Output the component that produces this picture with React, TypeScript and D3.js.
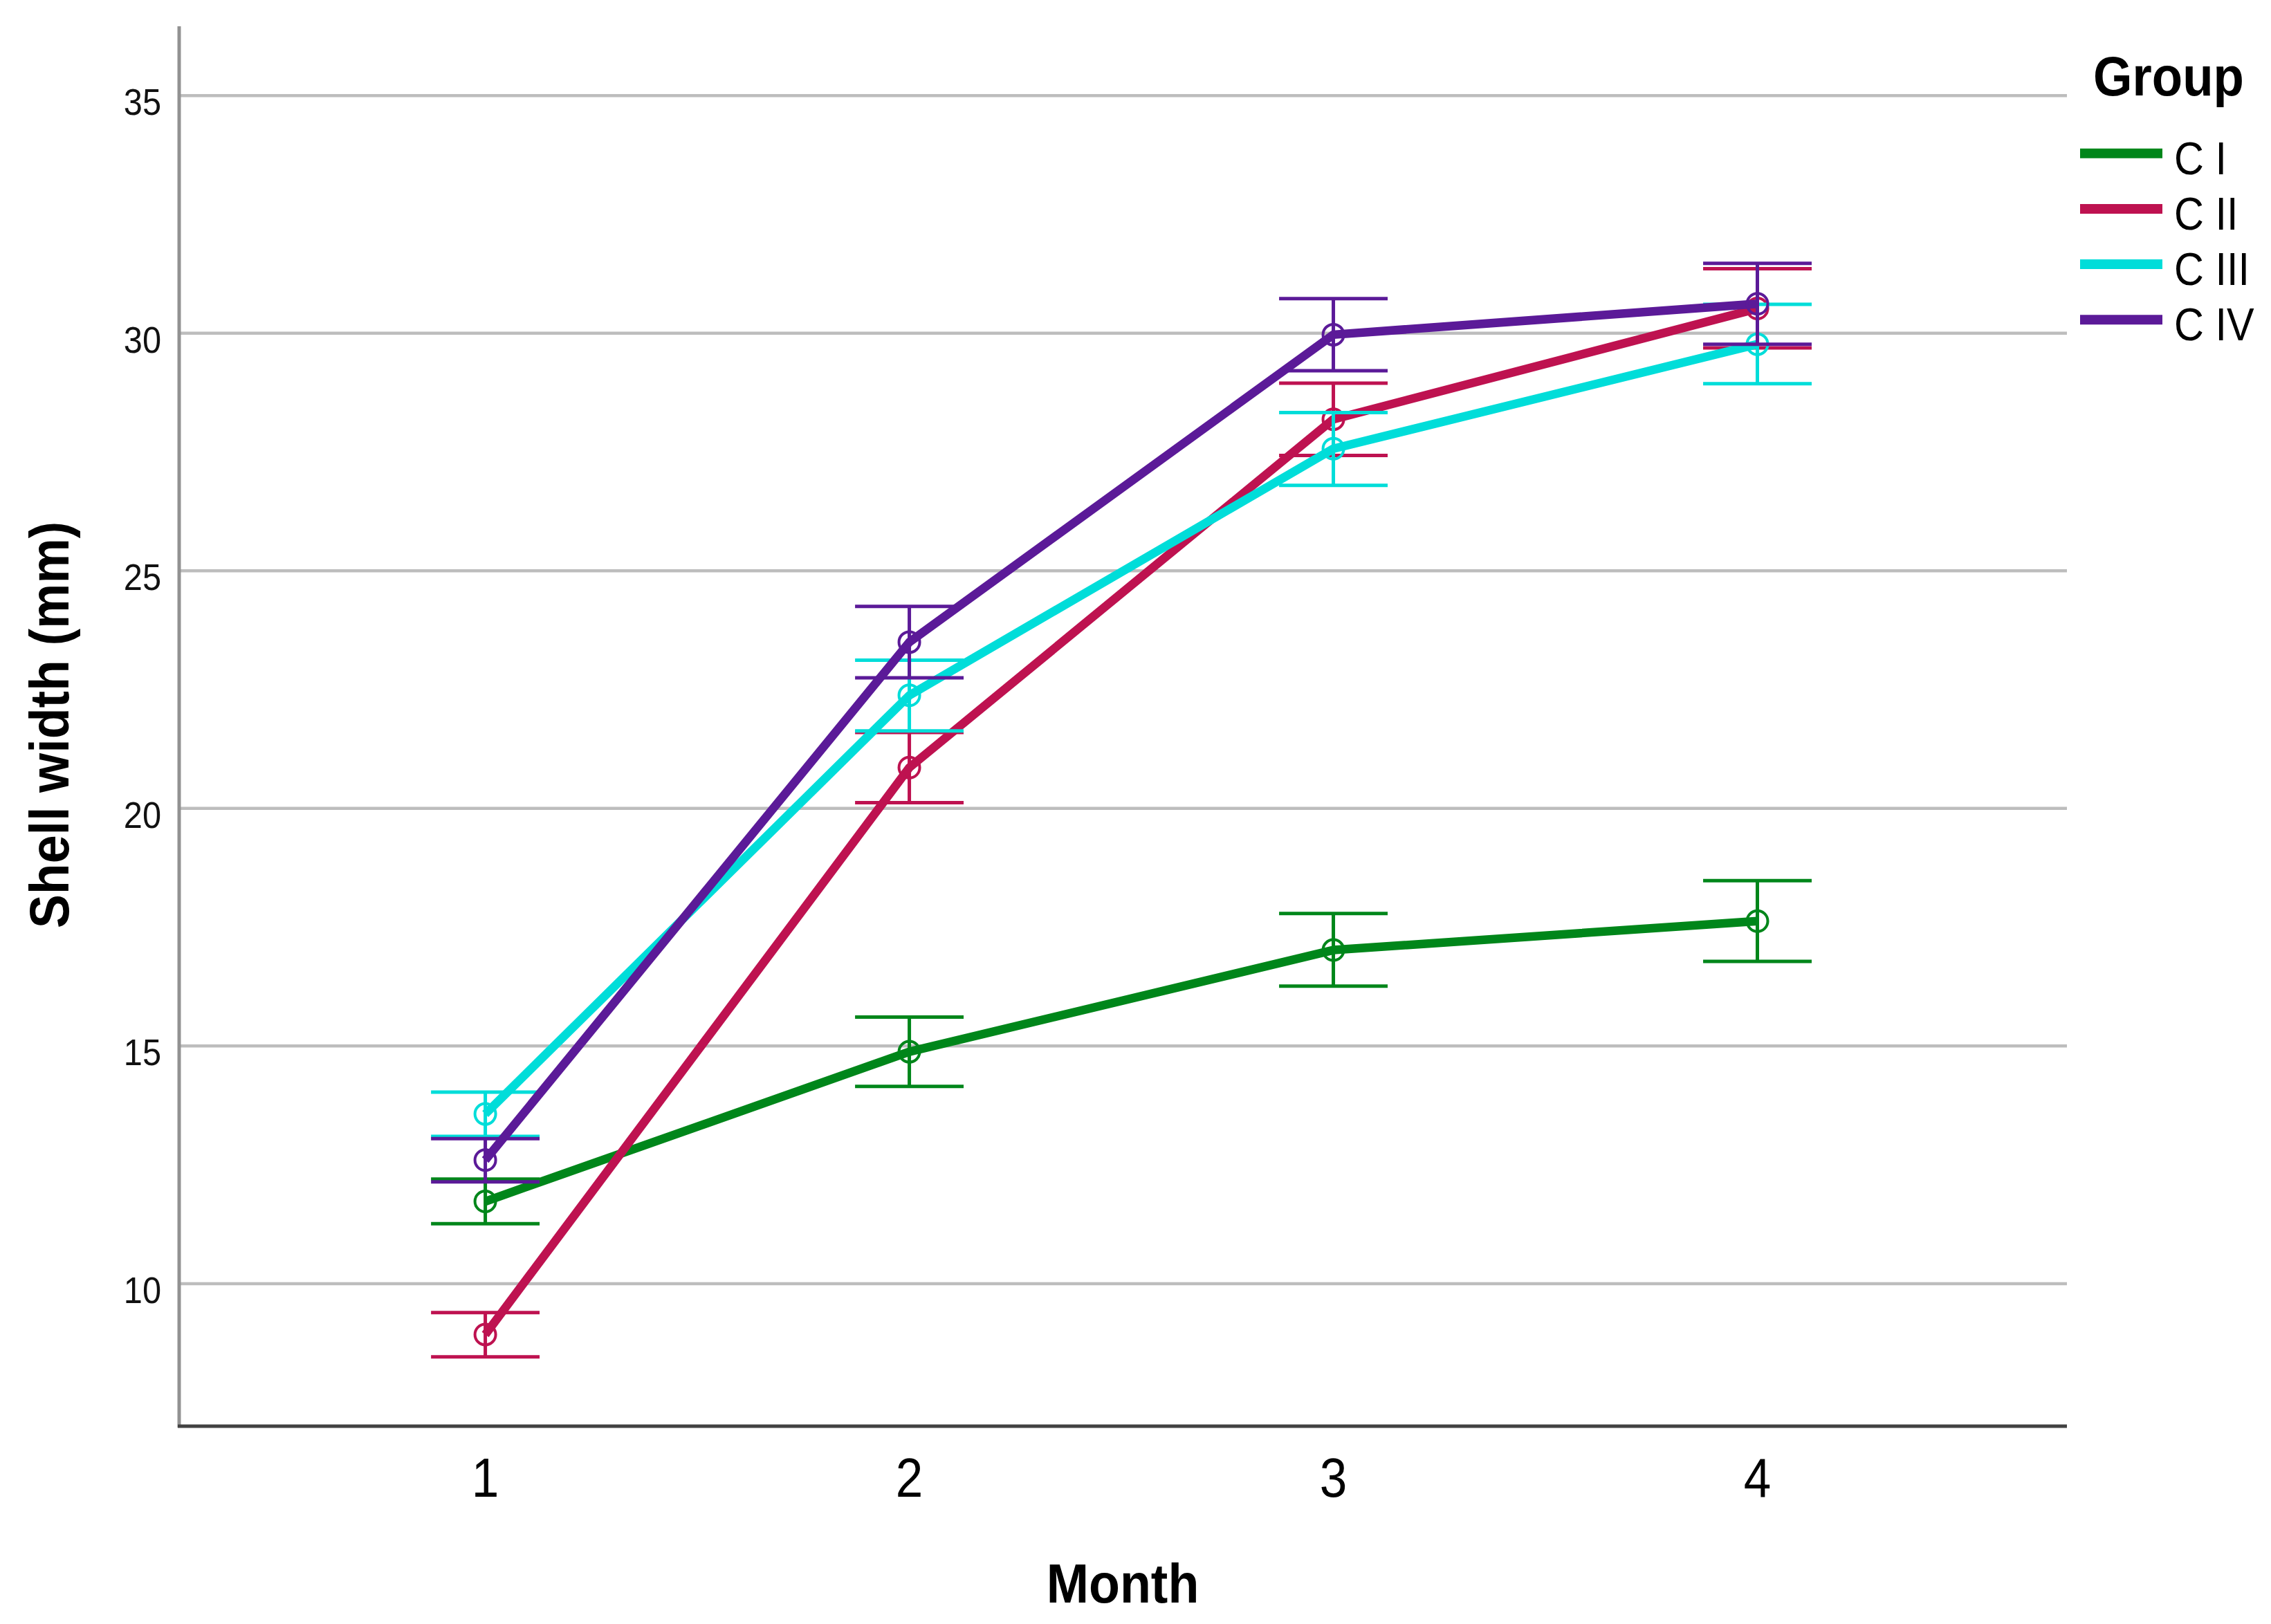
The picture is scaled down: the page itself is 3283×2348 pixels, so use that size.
import React from "react";
import * as d3 from "d3";

const months = [1, 2, 3, 4];
const groups = ["C I", "C II", "C III", "C IV"];
const colors = ["#00861A", "#BE1250", "#00DDD9", "#5B1A98"];

const cIMean = [11.73, 14.88, 17.02, 17.63];
const cILo = [11.26, 14.15, 16.26, 16.78];
const cIHi = [12.2, 15.61, 17.79, 18.48];

const cIIMean = [8.93, 20.86, 28.19, 30.52];
const cIILo = [8.46, 20.12, 27.43, 29.69];
const cIIHi = [9.39, 21.6, 28.95, 31.36];

const cIIIMean = [13.57, 22.38, 27.57, 29.77];
const cIIILo = [13.1, 21.63, 26.8, 28.94];
const cIIIHi = [14.03, 23.12, 28.33, 30.61];

const cIVMean = [12.6, 23.5, 29.97, 30.62];
const cIVLo = [12.14, 22.75, 29.21, 29.77];
const cIVHi = [13.05, 24.25, 30.73, 31.47];

const yTicks = [10, 15, 20, 25, 30, 35];

const W = 3283;
const H = 2348;
const FONT = "'Liberation Sans', Arial, sans-serif";

export default function App() {
  const x = d3.scaleLinear().domain([0.278, 4.73]).range([259, 2988]);
  const y = d3.scaleLinear().domain([7.0, 36.46]).range([2062, 38]);

  const series = [
    { name: groups[0], color: colors[0], mean: cIMean, lo: cILo, hi: cIHi },
    { name: groups[1], color: colors[1], mean: cIIMean, lo: cIILo, hi: cIIHi },
    { name: groups[2], color: colors[2], mean: cIIIMean, lo: cIIILo, hi: cIIIHi },
    { name: groups[3], color: colors[3], mean: cIVMean, lo: cIVLo, hi: cIVHi },
  ];

  const line = d3
    .line<number>()
    .x((_, i) => x(months[i]))
    .y((d) => y(d));

  const capHalf = 0.128;

  return (
    <svg
      width={W}
      height={H}
      viewBox={`0 0 ${W} ${H}`}
      style={{ position: "absolute", left: 0, top: 0, display: "block", background: "#fff" }}
    >
      <rect x={0} y={0} width={W} height={H} fill="#fff" />
      {yTicks.map((t) => (
        <line key={"g" + t} x1={x.range()[0]} x2={x.range()[1]} y1={y(t)} y2={y(t)} stroke="#bdbdbd" strokeWidth={4.5} />
      ))}
      {yTicks.map((t) => (
        <g key={"yl" + t} transform={`translate(233,${y(t) + 28}) scale(0.92,1)`}>
          <text x={0} y={0} textAnchor="end" fontFamily={FONT} fontSize={53} fill="#111">
            {t}
          </text>
        </g>
      ))}
      <line x1={259} x2={259} y1={y.range()[1]} y2={y.range()[0] + 2} stroke="#929292" strokeWidth={5} />
      <line x1={257} x2={x.range()[1]} y1={2062} y2={2062} stroke="#424242" strokeWidth={5} />
      {months.map((m) => (
        <g key={"xl" + m} transform={`translate(${x(m)},2164) scale(0.9,1)`}>
          <text x={0} y={0} textAnchor="middle" fontFamily={FONT} fontSize={79} fill="#000">
            {m}
          </text>
        </g>
      ))}
      <g transform={`translate(1623,2317) scale(0.92,1)`}>
        <text x={0} y={0} textAnchor="middle" fontFamily={FONT} fontWeight="bold" fontSize={80} fill="#000">
          Month
        </text>
      </g>
      <g transform={`translate(99,1048) rotate(-90) scale(0.92,1)`}>
        <text x={0} y={0} textAnchor="middle" fontFamily={FONT} fontWeight="bold" fontSize={80} fill="#000">
          Shell width (mm)
        </text>
      </g>
      {series.map((s, si) => (
        <g key={"s" + si}>
          {months.map((m, i) => (
            <g key={"eb" + i} stroke={s.color} strokeWidth={5}>
              <line x1={x(m)} x2={x(m)} y1={y(s.lo[i])} y2={y(s.hi[i])} />
              <line x1={x(m - capHalf)} x2={x(m + capHalf)} y1={y(s.hi[i])} y2={y(s.hi[i])} />
              <line x1={x(m - capHalf)} x2={x(m + capHalf)} y1={y(s.lo[i])} y2={y(s.lo[i])} />
            </g>
          ))}
          <path d={line(s.mean) || ""} fill="none" stroke={s.color} strokeWidth={12.5} strokeLinejoin="round" />
          {months.map((m, i) => (
            <circle key={"c" + i} cx={x(m)} cy={y(s.mean[i])} r={15} fill="none" stroke={s.color} strokeWidth={4} />
          ))}
        </g>
      ))}
      <g transform={`translate(3026,138) scale(0.92,1)`}>
        <text x={0} y={0} fontFamily={FONT} fontWeight="bold" fontSize={79} fill="#000">
          Group
        </text>
      </g>
      {series.map((s, si) => {
        const cy = 221.7 + si * 80.2;
        return (
          <g key={"lg" + si}>
            <line x1={3007} x2={3126} y1={cy} y2={cy} stroke={s.color} strokeWidth={14} />
            <g transform={`translate(3143,${cy + 30}) scale(0.9,1)`}>
              <text x={0} y={0} fontFamily={FONT} fontSize={66} fill="#000">
                {s.name}
              </text>
            </g>
          </g>
        );
      })}
    </svg>
  );
}
